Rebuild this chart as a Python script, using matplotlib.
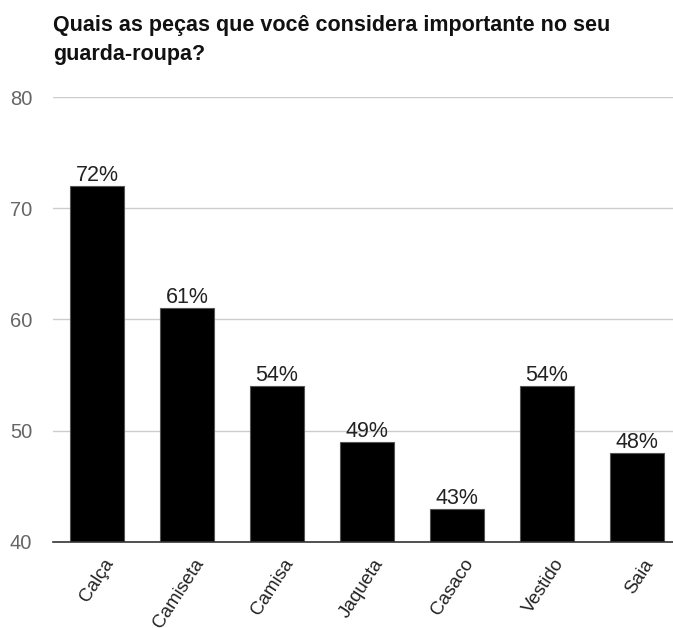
import matplotlib.pyplot as plt
import matplotlib.transforms as mtransforms

pecas = ["Calça", "Camiseta", "Camisa", "Jaqueta", "Casaco", "Vestido", "Saia"]
percentuais = [72, 61, 54, 49, 43, 54, 48]
yticks = [40, 50, 60, 70, 80]

plt.rcParams["font.family"] = ["Liberation Sans", "DejaVu Sans"]

fig = plt.figure(figsize=(6.73, 6.28), dpi=100)
ax = fig.add_axes([0.0788, 0.137, 0.9212, 0.7085])

x = range(len(pecas))
ax.bar(x, percentuais, width=0.6, color="black", edgecolor="#555555",
       linewidth=0.8, zorder=3)

for xi, v in zip(x, percentuais):
    ax.text(xi, v, f"{v}%", ha="center", va="bottom", fontsize=15.5,
            color="#222222", zorder=4)

ax.set_ylim(40, 80)
ax.set_xlim(-0.49, 6.4)
ax.set_yticks(yticks)
ax.yaxis.grid(True, color="#cccccc", linewidth=1)
ax.set_axisbelow(True)
for s in ["top", "right", "left"]:
    ax.spines[s].set_visible(False)
ax.spines["bottom"].set_color("#333333")
ax.spines["bottom"].set_linewidth(1.2)
ax.spines["bottom"].set_zorder(5)

ax.tick_params(axis="y", length=0, pad=15, labelsize=14.5, labelcolor="#666666")
ax.tick_params(axis="x", length=0, pad=10, labelsize=13.5, labelcolor="#222222")
ax.set_xticks(list(x))
ax.set_xticklabels(pecas, rotation=57, ha="right", rotation_mode="anchor")
shift = mtransforms.ScaledTranslation(6 / 100, 0, fig.dpi_scale_trans)
for lbl in ax.get_xticklabels():
    lbl.set_transform(lbl.get_transform() + shift)

fig.text(53 / 673, 1 - 31 / 628, "Quais as peças que você considera importante no seu",
         fontsize=15.5, fontweight="bold", color="#111111", ha="left", va="baseline")
fig.text(53 / 673, 1 - 60 / 628, "guarda-roupa?",
         fontsize=15.5, fontweight="bold", color="#111111", ha="left", va="baseline")

fig.savefig("out.png", dpi=100)
